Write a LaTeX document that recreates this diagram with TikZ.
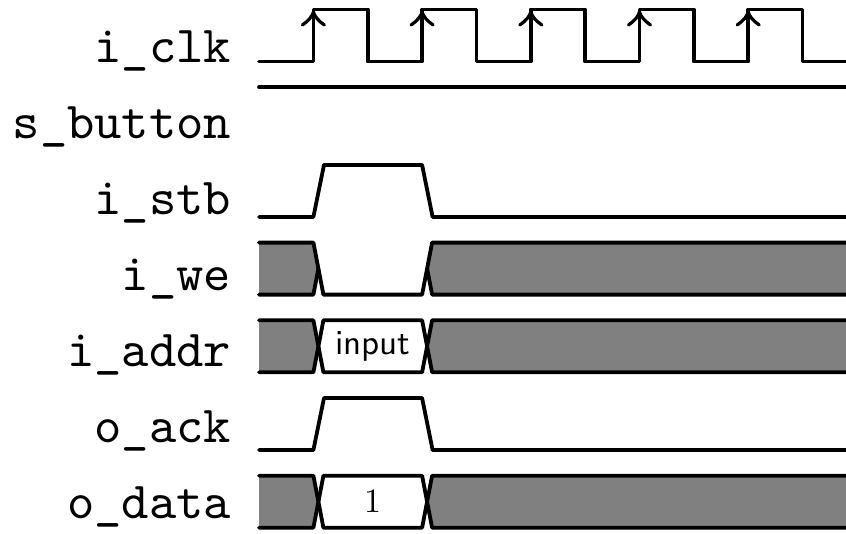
\documentclass[tikz,border=0pt]{standalone}
\usepackage{fontspec}
\newfontfamily\lblfont{lmmono10-regular.otf}
\newfontfamily\valfont{lmroman10-regular.otf}
\newfontfamily\busfont{lmsans10-regular.otf}
\begin{document}
\begin{tikzpicture}[x=1pt,y=-1pt,line width=3.8pt,line cap=round,line join=round,
  lbl/.style={anchor=base east,inner sep=0pt,font=\lblfont\fontsize{52}{52}\selectfont},
  buslbl/.style={anchor=base,inner sep=0pt,font=\busfont\fontsize{35}{35}\selectfont},
  vallbl/.style={anchor=base,inner sep=0pt,font=\valfont\fontsize{34}{34}\selectfont},
  busfill/.style={fill=black!50},
  clkarrow/.style={line width=3.2pt}]
\useasboundingbox (0,0) rectangle (846,533);

% labels
\node[lbl] (lclk) at (233,62) {i\_clk};
\node[lbl] (lbtn) at (233,138) {s\_button};
\node[lbl] (lstb) at (233,214) {i\_stb};
\node[lbl] (lwe) at (233,290) {i\_we};
\node[lbl] (laddr) at (233,366) {i\_addr};
\node[lbl] (lack) at (233,442) {o\_ack};
\node[lbl] (ldata) at (233,518) {o\_data};

% i_clk
\draw (259,61.5) -- (313.4,61.5) -- (313.4,9.5) -- (367.7,9.5) -- (367.7,61.5)
  -- (422.1,61.5) -- (422.1,9.5) -- (476.4,9.5) -- (476.4,61.5)
  -- (530.8,61.5) -- (530.8,9.5) -- (585.1,9.5) -- (585.1,61.5)
  -- (639.5,61.5) -- (639.5,9.5) -- (693.8,9.5) -- (693.8,61.5)
  -- (748.2,61.5) -- (748.2,9.5) -- (802.5,9.5) -- (802.5,61.5) -- (850,61.5);
\foreach \x in {313.4,422.1,530.8,639.5,748.2}
  \draw[clkarrow] (\x-11,25) .. controls (\x-5,21) and (\x-1,16) .. (\x,12)
    .. controls (\x+1,16) and (\x+5,21) .. (\x+11,25);

% s_button
\draw (259,87.2) -- (850,87.2);

% i_stb
\draw (259,216.9) -- (313.4,216.9) -- (324,164.9) -- (422.1,164.9) -- (432.6,216.9) -- (850,216.9);

% i_we
\fill[busfill] (259,242.6) -- (313.4,242.6) -- (318.4,268.6) -- (313.4,294.6) -- (259,294.6) -- cycle;
\fill[busfill] (432.1,242.6) -- (850,242.6) -- (850,294.6) -- (432.1,294.6) -- (427.1,268.6) -- cycle;
\draw (259,242.6) -- (313.4,242.6) -- (323.4,294.6) -- (422.1,294.6) -- (432.1,242.6) -- (850,242.6);
\draw (259,294.6) -- (313.4,294.6) -- (318.4,268.6);
\draw (427.1,268.6) -- (432.1,294.6) -- (850,294.6);

% i_addr
\fill[busfill] (259,320.3) -- (313.4,320.3) -- (318.4,346.3) -- (313.4,372.3) -- (259,372.3) -- cycle;
\fill[busfill] (432.1,320.3) -- (850,320.3) -- (850,372.3) -- (432.1,372.3) -- (427.1,346.3) -- cycle;
\draw[fill=white] (323.4,320.3) -- (422.1,320.3) -- (427.1,346.3) -- (422.1,372.3) -- (323.4,372.3) -- (318.4,346.3) -- cycle;
\draw (259,320.3) -- (313.4,320.3) -- (318.4,346.3) -- (313.4,372.3) -- (259,372.3);
\draw (850,320.3) -- (432.1,320.3) -- (427.1,346.3) -- (432.1,372.3) -- (850,372.3);
\node[buslbl] (vaddr) at (372.7,354) {input};

% o_ack
\draw (259,450) -- (313.4,450) -- (324,398) -- (422.1,398) -- (432.6,450) -- (850,450);

% o_data
\fill[busfill] (259,475.7) -- (313.4,475.7) -- (318.4,501.7) -- (313.4,527.7) -- (259,527.7) -- cycle;
\fill[busfill] (432.1,475.7) -- (850,475.7) -- (850,527.7) -- (432.1,527.7) -- (427.1,501.7) -- cycle;
\draw[fill=white] (323.4,475.7) -- (422.1,475.7) -- (427.1,501.7) -- (422.1,527.7) -- (323.4,527.7) -- (318.4,501.7) -- cycle;
\draw (259,475.7) -- (313.4,475.7) -- (318.4,501.7) -- (313.4,527.7) -- (259,527.7);
\draw (850,475.7) -- (432.1,475.7) -- (427.1,501.7) -- (432.1,527.7) -- (850,527.7);
\node[vallbl] (vdata) at (372.7,512) {1};
\end{tikzpicture}
\end{document}
